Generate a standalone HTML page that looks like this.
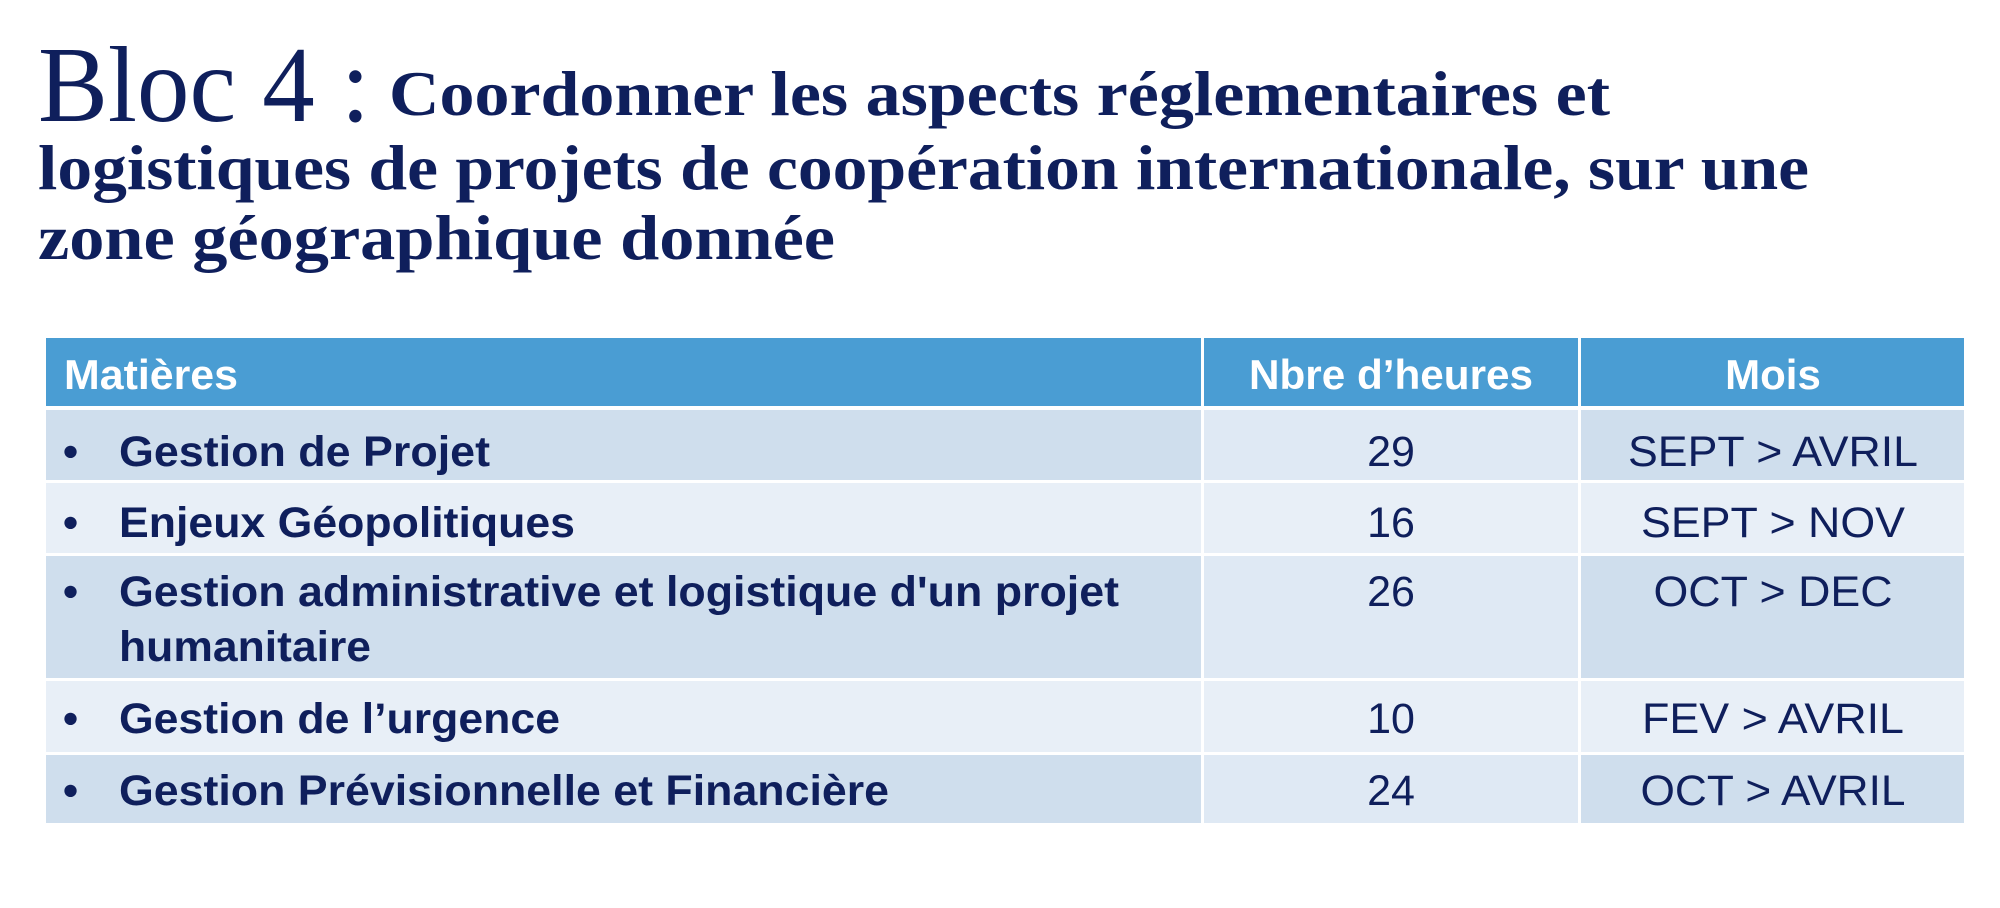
<!DOCTYPE html>
<html><head><meta charset="utf-8"><style>
html,body{margin:0;padding:0;background:#fff;width:2000px;height:908px;overflow:hidden}
svg{display:block}
.t{font-family:"Liberation Serif",serif;fill:#0f1f5c}
.s{font-family:"Liberation Sans",sans-serif;fill:#0f1f5c}
</style></head><body>
<svg width="2000" height="908" viewBox="0 0 2000 908" xmlns="http://www.w3.org/2000/svg">
<rect width="2000" height="908" fill="#fff"/>
<text class="t" x="38" y="121" font-size="108" textLength="332" lengthAdjust="spacingAndGlyphs">Bloc 4 :</text>
<text class="t" x="389" y="115" font-size="64" font-weight="bold" textLength="1221" lengthAdjust="spacingAndGlyphs">Coordonner les aspects réglementaires et</text>
<text class="t" x="38" y="189" font-size="64" font-weight="bold" textLength="1771" lengthAdjust="spacingAndGlyphs">logistiques de projets de coopération internationale, sur une</text>
<text class="t" x="38" y="259" font-size="64" font-weight="bold" textLength="797" lengthAdjust="spacingAndGlyphs">zone géographique donnée</text>

<rect x="46" y="338" width="1918" height="68" fill="#4a9dd3"/>
<rect x="46" y="410" width="1918" height="70" fill="#cfdeed"/>
<rect x="1204" y="410" width="374" height="70" fill="#dfe9f4"/>
<rect x="46" y="483" width="1918" height="70" fill="#e8eff7"/>
<rect x="46" y="556" width="1918" height="122" fill="#cfdeed"/>
<rect x="1204" y="556" width="374" height="122" fill="#dfe9f4"/>
<rect x="46" y="681" width="1918" height="71" fill="#e8eff7"/>
<rect x="46" y="755" width="1918" height="68" fill="#cfdeed"/>
<rect x="1204" y="755" width="374" height="68" fill="#dfe9f4"/>
<rect x="1201" y="338" width="3" height="485" fill="#fff"/>
<rect x="1578" y="338" width="3" height="485" fill="#fff"/>

<g font-family="Liberation Sans, sans-serif" font-weight="bold" font-size="42" fill="#fff">
<text x="64" y="389" textLength="174" lengthAdjust="spacingAndGlyphs">Matières</text>
<text x="1391" y="389" text-anchor="middle" textLength="284" lengthAdjust="spacingAndGlyphs">Nbre d’heures</text>
<text x="1773" y="389" text-anchor="middle">Mois</text>
</g>
<g class="s" font-size="43">
<g font-weight="bold">
<text x="63" y="466">•</text>
<text x="119" y="466" textLength="371" lengthAdjust="spacingAndGlyphs">Gestion de Projet</text>
<text x="63" y="537">•</text>
<text x="119" y="537" textLength="456" lengthAdjust="spacingAndGlyphs">Enjeux Géopolitiques</text>
<text x="63" y="606">•</text>
<text x="119" y="606" textLength="1000" lengthAdjust="spacingAndGlyphs">Gestion administrative et logistique d'un projet</text>
<text x="119" y="661" textLength="252" lengthAdjust="spacingAndGlyphs">humanitaire</text>
<text x="63" y="733">•</text>
<text x="119" y="733" textLength="441" lengthAdjust="spacingAndGlyphs">Gestion de l’urgence</text>
<text x="63" y="805">•</text>
<text x="119" y="805" textLength="770" lengthAdjust="spacingAndGlyphs">Gestion Prévisionnelle et Financière</text>
</g>
<g text-anchor="middle">
<text x="1391" y="466">29</text>
<text x="1391" y="537">16</text>
<text x="1391" y="606">26</text>
<text x="1391" y="733">10</text>
<text x="1391" y="805">24</text>
<text x="1773" y="466" textLength="290" lengthAdjust="spacingAndGlyphs">SEPT &gt; AVRIL</text>
<text x="1773" y="537" textLength="264" lengthAdjust="spacingAndGlyphs">SEPT &gt; NOV</text>
<text x="1773" y="606" textLength="239" lengthAdjust="spacingAndGlyphs">OCT &gt; DEC</text>
<text x="1773" y="733" textLength="262" lengthAdjust="spacingAndGlyphs">FEV &gt; AVRIL</text>
<text x="1773" y="805" textLength="265" lengthAdjust="spacingAndGlyphs">OCT &gt; AVRIL</text>
</g>
</g>
</svg>
</body></html>
